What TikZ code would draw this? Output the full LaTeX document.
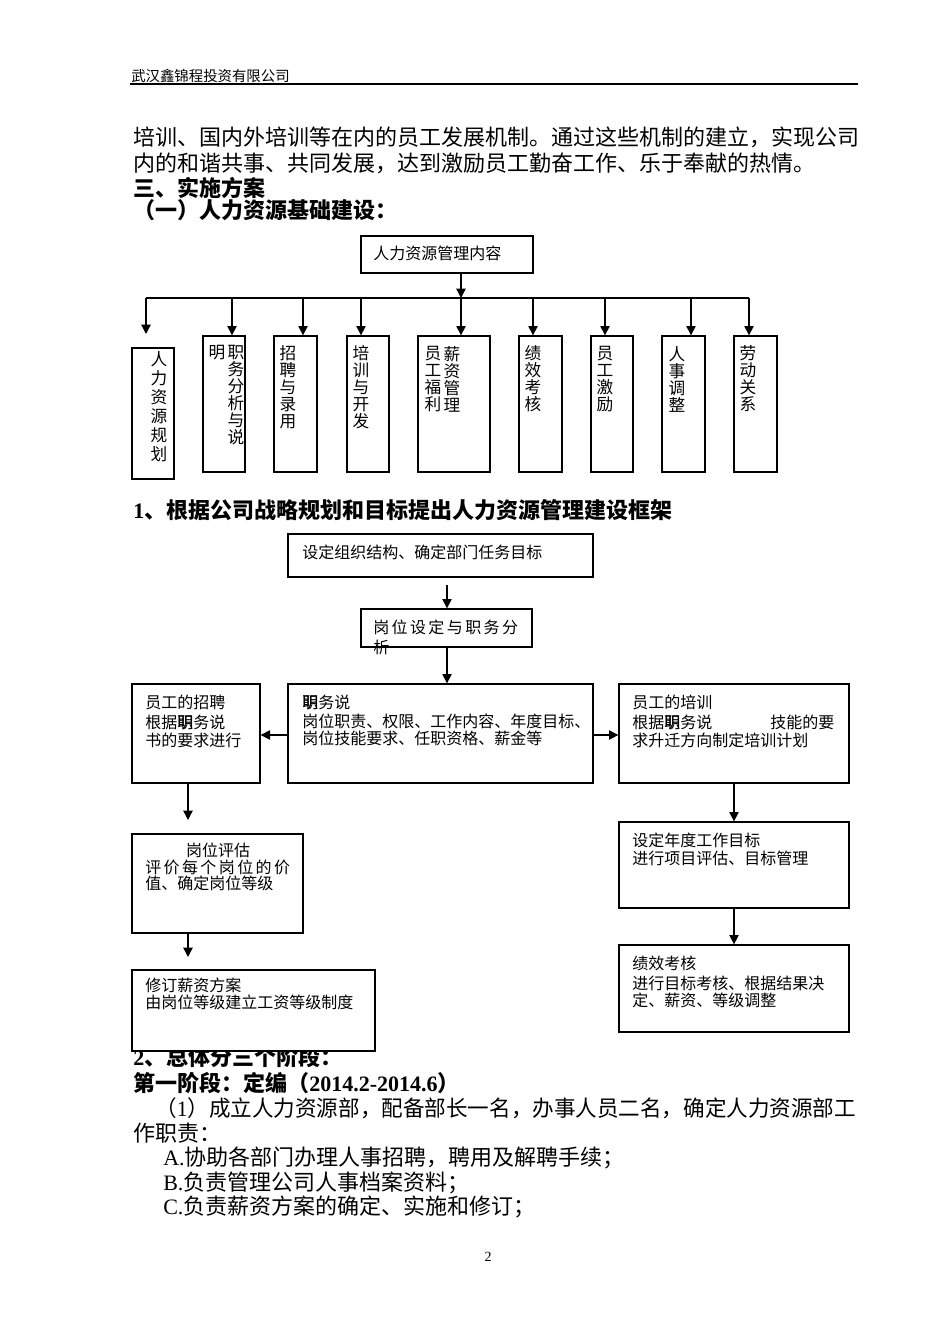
\documentclass[tikz,border=0pt]{standalone}
\usepackage{fontspec}
\setmainfont{Liberation Serif}
\newfontfamily\cjk{Noto Sans CJK SC}
\usetikzlibrary{arrows.meta,fit}
\newcommand\zhiming{\rlap{明}职}
\tikzset{
  box/.style={draw, line width=1pt, fill=white, inner sep=0pt},
  arr/.style={line width=1pt, -{Triangle[length=7pt,width=7pt]}},
  ln/.style={line width=1pt},
  txt/.style={anchor=west, inner sep=0pt, font=\cjk\fontsize{12}{14}\selectfont},
  txtsp/.style={anchor=west, inner sep=0pt, font=\cjk\fontsize{12}{14}\selectfont\addfontfeature{LetterSpace=15}},
  body/.style={anchor=west, inner sep=0pt, font=\cjk\fontsize{16.5}{20}\selectfont},
  hd/.style={anchor=west, inner sep=0pt, font=\cjk\bfseries\fontsize{16.5}{20}\selectfont},
  vt/.style={anchor=center, inner sep=0pt, align=center, font=\cjk\fontsize{12.5}{12.75}\selectfont},
  vtw/.style={anchor=center, inner sep=0pt, align=center, font=\cjk\fontsize{12.5}{14.25}\selectfont},
}
\begin{document}
\begin{tikzpicture}[x=0.75pt,y=-0.75pt]
\useasboundingbox (0,0) rectangle (950,1344);
% header
\node[anchor=west, inner sep=0pt, font=\cjk\fontsize{10.8}{12}\selectfont] (hdr) at (131,76) {武汉鑫锦程投资有限公司};
\coordinate (hl1) at (130,84);
\coordinate (hl2) at (858,84);
\draw[ln] (hl1) -- (hl2);
% body text
\node[body] (p1) at (133,137) {培训、国内外培训等在内的员工发展机制。通过这些机制的建立，实现公司};
\node[body] (p2) at (133,163) {内的和谐共事、共同发展，达到激励员工勤奋工作、乐于奉献的热情。};
\node[hd] (h3) at (133,188) {三、实施方案};
\node[hd] (h31) at (133,210) {（一）人力资源基础建设：};
% diagram 1
\node[box, fit={(361,236) (533,273)}] (top) {};
\node[txt] (toptxt) at (373,253) {人力资源管理内容};
\node[box, fit={(132,348) (174,479)}] (b1) {};
\node[box, fit={(203,336) (245,472)}] (b2) {};
\node[box, fit={(274,336) (317,472)}] (b3) {};
\node[box, fit={(347,336) (389,472)}] (b4) {};
\node[box, fit={(418,336) (490,472)}] (b5) {};
\node[box, fit={(519,336) (562,472)}] (b6) {};
\node[box, fit={(591,336) (633,472)}] (b7) {};
\node[box, fit={(662,336) (705,472)}] (b8) {};
\node[box, fit={(734,336) (777,472)}] (b9) {};
\node[vtw] (v1) at (159,407) {人\\力\\资\\源\\规\\划};
\node[vt] (v2) at (236,395.5) {职\\务\\分\\析\\与\\说};
\node[vt] (v2b) at (217,353) {明};
\node[vt] (v3) at (288,387.5) {招\\聘\\与\\录\\用};
\node[vt] (v4) at (361,387.5) {培\\训\\与\\开\\发};
\node[vt] (v5) at (452,379) {薪\\资\\管\\理};
\node[vt] (v5b) at (433,379) {员\\工\\福\\利};
\node[vt] (v6) at (533,379) {绩\\效\\考\\核};
\node[vt] (v7) at (605,379) {员\\工\\激\\励};
\node[vt] (v8) at (677,379) {人\\事\\调\\整};
\node[vt] (v9) at (748,379) {劳\\动\\关\\系};
\coordinate (d1) at (146,298);
\coordinate (d2) at (232,298);
\coordinate (d3) at (303,298);
\coordinate (d4) at (361,298);
\coordinate (d5) at (461,298);
\coordinate (d6) at (533,298);
\coordinate (d7) at (605,298);
\coordinate (d8) at (691,298);
\coordinate (d9) at (749,298);
\coordinate (e1) at (146,334);
\draw[arr] (top.south -| d5) -- (d5);
\draw[ln] (d1) -- (d9);
\draw[arr] (d1) -- (e1);
\draw[arr] (d2) -- (d2 |- b2.north);
\draw[arr] (d3) -- (d3 |- b3.north);
\draw[arr] (d4) -- (d4 |- b4.north);
\draw[arr] (d5) -- (d5 |- b5.north);
\draw[arr] (d6) -- (d6 |- b6.north);
\draw[arr] (d7) -- (d7 |- b7.north);
\draw[arr] (d8) -- (d8 |- b8.north);
\draw[arr] (d9) -- (d9 |- b9.north);
% heading 1
\node[hd] (h1) at (133,510) {{\rmfamily\bfseries 1}、根据公司战略规划和目标提出人力资源管理建设框架};
% text below diagram 2 (partly covered by a box)
\node[hd] (h2) at (133,1057) {{\rmfamily\bfseries 2}、总体分三个阶段：};
% diagram 2
\node[box, fit={(288,534) (593,577)}] (A) {};
\node[txt] (At) at (302,552) {设定组织结构、确定部门任务目标};
\node[box, fit={(361,609) (532,647)}] (B) {};
\node[txtsp] (Bt) at (373,627) {岗位设定与职务分};
\node[txt] (Bt2) at (373,647) {析};
\node[box, fit={(288,684) (593,783)}] (C) {};
\node[txt] (Ct1) at (302,702) {\zhiming 务说};
\node[txt] (Ct2) at (302,721) {岗位职责、权限、工作内容、年度目标、};
\node[txt] (Ct3) at (302,738) {岗位技能要求、任职资格、薪金等};
\node[box, fit={(132,684) (260,783)}] (L1) {};
\node[txt] (L1t1) at (145,702) {员工的招聘};
\node[txt] (L1t2) at (145,722) {根据\zhiming 务说};
\node[txt] (L1t3) at (145,740) {书的要求进行};
\node[box, fit={(619,684) (849,783)}] (R1) {};
\node[txt] (R1t1) at (632,702) {员工的培训};
\node[txt] (R1t2) at (632,722) {根据\zhiming 务说};
\node[txt] (R1t2b) at (770,722) {技能的要};
\node[txt] (R1t3) at (632,740) {求升迁方向制定培训计划};
\node[box, fit={(132,834) (303,933)}] (L2) {};
\node[txt, anchor=center] (L2t1) at (218,850) {岗位评估};
\node[txtsp] (L2t2) at (145,867) {评价每个岗位的价};
\node[txt] (L2t3) at (145,883) {值、确定岗位等级};
\node[box, fit={(132,970) (375,1051)}] (L3) {};
\node[txt] (L3t1) at (145,985) {修订薪资方案};
\node[txt] (L3t2) at (145,1002) {由岗位等级建立工资等级制度};
\node[box, fit={(619,822) (849,908)}] (R2) {};
\node[txt] (R2t1) at (632,840) {设定年度工作目标};
\node[txt] (R2t2) at (632,858) {进行项目评估、目标管理};
\node[box, fit={(619,945) (849,1032)}] (R3) {};
\node[txt] (R3t1) at (632,963) {绩效考核};
\node[txt] (R3t2) at (632,983) {进行目标考核、根据结果决};
\node[txt] (R3t3) at (632,1000) {定、薪资、等级调整};
% connectors diagram 2
\coordinate (a1) at (447,585);
\coordinate (mid) at (447,735);
\coordinate (lx) at (188,0);
\coordinate (rx) at (734,0);
\coordinate (e2) at (188,820);
\coordinate (e3) at (188,957);
\draw[arr] (a1) -- (a1 |- B.north);
\draw[arr] (B.south -| a1) -- (a1 |- C.north);
\draw[arr] (C.west |- mid) -- (L1.east |- mid);
\draw[arr] (C.east |- mid) -- (R1.west |- mid);
\draw[arr] (L1.south -| lx) -- (e2);
\draw[arr] (L2.south -| lx) -- (e3);
\draw[arr] (R1.south -| rx) -- (R2.north -| rx);
\draw[arr] (R2.south -| rx) -- (R3.north -| rx);
% remaining text
\node[hd] (h4) at (133,1083) {第一阶段：定编（{\rmfamily\bfseries 2014.2-2014.6}）};
\node[body] (q1) at (155,1108) {\scalebox{0.98}[1]{（{\rmfamily 1}）成立人力资源部，配备部长一名，办事人员二名，确定人力资源部工}};
\node[body] (q2) at (133,1133) {作职责：};
\node[body] (q3) at (163,1158) {{\rmfamily A.}协助各部门办理人事招聘，聘用及解聘手续；};
\node[body] (q4) at (163,1183) {{\rmfamily B.}负责管理公司人事档案资料；};
\node[body] (q5) at (163,1207) {{\rmfamily C.}负责薪资方案的确定、实施和修订；};
\node[anchor=center, inner sep=0pt, font=\fontsize{10.5}{12}\selectfont] (pg) at (488,1257) {2};
\end{tikzpicture}
\end{document}
